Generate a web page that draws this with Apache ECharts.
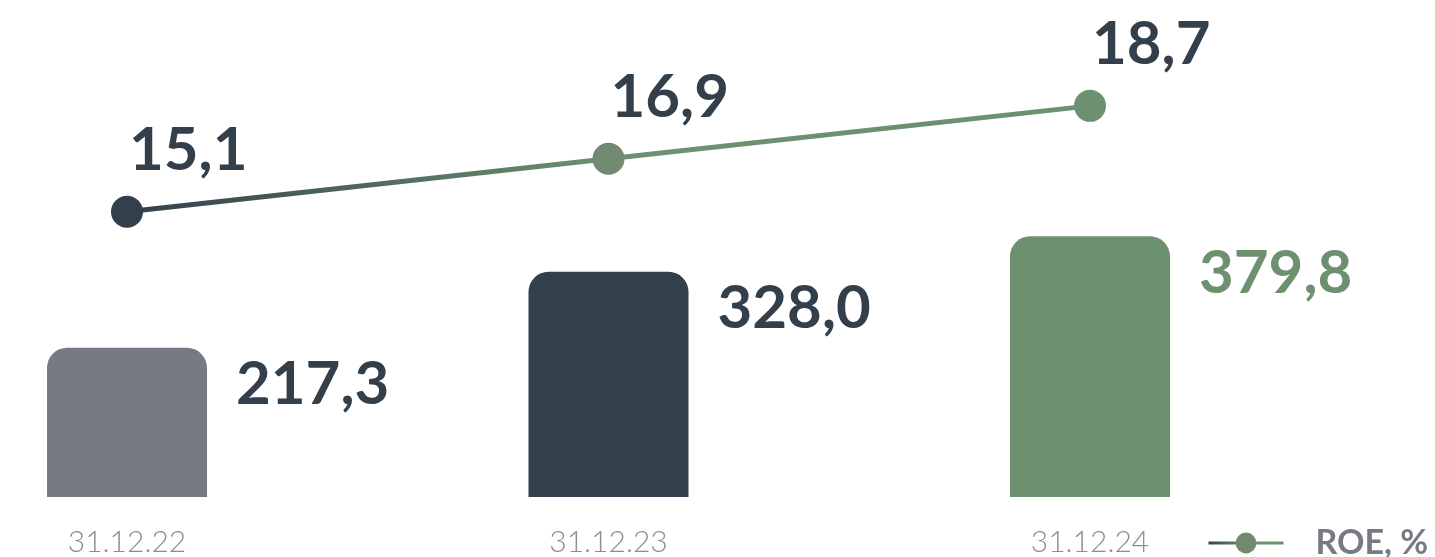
<!DOCTYPE html>
<html>
<head>
<meta charset="utf-8">
<script src="https://cdn.jsdelivr.net/npm/echarts@6/dist/echarts.min.js"></script>
<style>
  html, body { margin: 0; padding: 0; background: #fff; }
  #chart { width: 1435px; height: 557px; }
</style>
</head>
<body>
<div id="chart"></div>
<script>
const dates = ['31.12.22', '31.12.23', '31.12.24'];
const capital = [217.3, 328.0, 379.8];
const roe = [15.1, 16.9, 18.7];

const barColors = ['#777a83', '#333f4a', '#6d9170'];
const barLabelColors = ['#333f4a', '#333f4a', '#6d9170'];
const dotColors = ['#333f4a', '#738a72', '#6d9170'];

const fmt = v => v.toFixed(1).replace('.', ',');
const font = 'Lato';

const chart = echarts.init(document.getElementById('chart'));

chart.setOption({
  animation: false,
  grid: { left: 127, right: 345, top: 0, bottom: 60 },
  legend: {
    left: 1202,
    top: 521,
    itemWidth: 75,
    itemHeight: 26,
    data: ['ROE, %'],
    lineStyle: { width: 3 },
    textStyle: {
      fontFamily: font, fontWeight: 'bold', fontSize: 34, color: '#777a83',
      padding: [0, 0, 0, 27]
    }
  },
  xAxis: {
    type: 'category',
    data: dates,
    boundaryGap: false,
    axisLine: { show: false },
    axisTick: { show: false },
    axisLabel: { margin: 30, fontFamily: font, fontWeight: 300, fontSize: 30, color: '#8a8d94' }
  },
  yAxis: [
    { type: 'value', min: 0, max: 724, show: false },
    { type: 'value', min: 5.4, max: 22.3, show: false }
  ],
  series: [
    {
      name: 'Капитал',
      type: 'bar',
      barWidth: 160,
      yAxisIndex: 0,
      data: capital.map((v, i) => ({
        value: v,
        itemStyle: { color: barColors[i], borderRadius: [20, 20, 0, 0] },
        label: { color: barLabelColors[i] }
      })),
      label: {
        show: true,
        position: [189, 37],
        align: 'left',
        verticalAlign: 'middle',
        fontFamily: font,
        fontWeight: 'bold',
        fontSize: 60,
        formatter: p => fmt(p.value)
      }
    },
    {
      name: 'ROE, %',
      type: 'line',
      yAxisIndex: 1,
      z: 5,
      symbol: 'circle',
      symbolSize: 32,
      data: roe.map((v, i) => ({ value: v, itemStyle: { color: dotColors[i] } })),
      itemStyle: { color: '#71896f' },
      lineStyle: {
        width: 5,
        color: new echarts.graphic.LinearGradient(0, 0, 1, 0, [
          { offset: 0, color: '#333f4a' },
          { offset: 0.5, color: '#6d9170' },
          { offset: 1, color: '#6d9170' }
        ])
      },
      label: {
        show: true,
        position: [18, -45],
        align: 'left',
        verticalAlign: 'middle',
        color: '#333f4a',
        fontFamily: font,
        fontWeight: 'bold',
        fontSize: 60,
        formatter: p => fmt(p.value)
      }
    }
  ]
});

window.addEventListener('resize', () => chart.resize());
</script>
</body>
</html>
